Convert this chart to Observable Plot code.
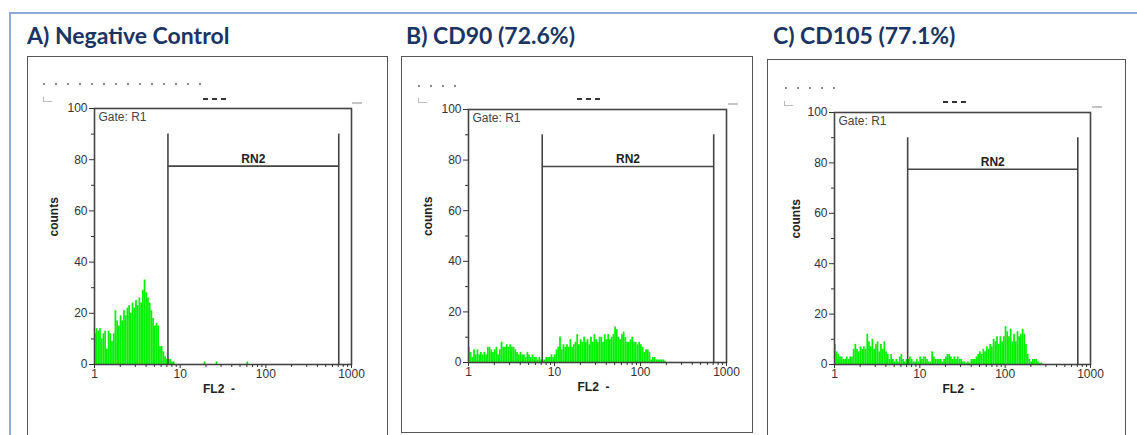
<!DOCTYPE html>
<html><head><meta charset="utf-8">
<script src="https://cdn.jsdelivr.net/npm/d3@7"></script>
<script src="https://cdn.jsdelivr.net/npm/@observablehq/plot@0.6"></script>
<style>
html,body{margin:0;padding:0;background:#fff;width:1137px;height:435px;overflow:hidden;}
#page{position:relative;width:1137px;height:435px;overflow:hidden;}
.outer{position:absolute;left:9px;top:12px;width:1300px;height:600px;border-top:2px solid #8eaadb;border-left:2px solid #8eaadb;}
.title{position:absolute;font-family:Lato,sans-serif;font-weight:700;font-size:23px;color:#1a3563;white-space:nowrap;line-height:1;}
.box{position:absolute;border:1.5px solid #555;box-sizing:border-box;background:#fff;}
.clip{position:absolute;overflow:hidden;}
.clip svg{max-width:none !important;}
.dots{position:absolute;height:2px;background:repeating-linear-gradient(to right,#8a8a8a 0 2px,transparent 2px 12px);}
.dashes{position:absolute;height:2px;background:repeating-linear-gradient(to right,#333 0 5px,transparent 5px 9px);}
.bracket{position:absolute;width:8px;height:4px;border-left:1px solid #bbb;border-bottom:1px solid #bbb;}
.rdash{position:absolute;width:10px;height:2px;background:#c4c4c4;}
</style></head>
<body><div id="page"><div class="outer"></div></div>
<script>
// ---- data ----
const channelsPerDecade = 50;          // histogram channel resolution (log10 units)
const titles = ["A) Negative Control", "B) CD90 (72.6%)", "C) CD105 (77.1%)"];
const yLabel = "counts";
const xLabel = "FL2  -";
const gateName = "Gate: R1";
const regionName = "RN2";
const gate = [7.2, 710];               // RN2 marker limits (FL2)
const gateTop = 90;                    // counts
const gateBar = 77.5;                  // counts
const yMajor = [0, 20, 40, 60, 80, 100];
const yMinor = [10, 30, 50, 70, 90];
const xMajor = [1, 10, 100, 1000];
const xMinor = [2,3,4,5,6,7,8,9,20,30,40,50,60,70,80,90,200,300,400,500,600,700,800,900];

const negativeControl = [
 12,14,13,14,10,12,13,6,13,12, 9,12,21,17,15,19,17,21,19,22,
 23,20,24,22,25,23,26,24,29,33, 28,26,24,21,18,15,16,15,7,7,
 5,3,2,2,2,1,1,0,0,0, 0,0,0,0,0,0,0,0,0,0,
 0,0,0,0,1,0,0,0,0,0, 0,1,0,0,0,0,0,0,0,0,
 0,0,0,0,0,0,0,0,0,1
];
const cd90 = [
 6,4,2,5,3,5,3,4,3,4, 3,6,6,5,4,5,6,3,5,8,
 6,6,7,6,7,6,6,5,4,3, 4,3,3,2,4,3,2,3,2,2,
 1,2,1,1,1,2,2,2,3,2, 3,5,6,10,5,7,6,7,6,9,
 6,7,8,11,7,9,8,10,8,9, 7,10,8,11,9,8,10,10,8,11,
 9,11,9,10,11,14,13,10,9,11, 12,10,8,8,9,10,8,8,7,8,
 7,6,4,5,5,4,1,2,2,1, 1,1,1,1,0.5
];
const cd105 = [
 8,5,4,3,3,2,2,3,2,3, 3,6,8,6,5,7,6,7,6,12,
 9,7,10,6,8,9,5,8,6,9, 5,4,2,4,2,1,2,1,3,4,
 2,1,2,2,3,2,1,1,2,1, 3,2,3,3,2,1,1,5,3,2,
 2,2,2,1,2,3,4,4,3,2, 3,2,3,2,2,1,1,0.5,1,0.5,
 2,2,2,3,4,5,4,6,5,7, 6,8,7,10,9,11,8,11,9,11,
 15,13,11,14,9,12,9,13,11,12, 14,12,8,4,2,1,2,2,2,1,
 0.5,0.5
];
const series = [negativeControl, cd90, cd105];

// ---- layout (positions / sizes only) ----
const layout = [
  {title:[27,24], box:[27,56,361,390], svg:[27,57,360,378], clipW:344, m:[51,36,71,67], ylab:-40,
   dots:[43,83,165], dashes:[203,98,26], bracket:[43,97], rdash:[352,102]},
  {title:[406,24], box:[401,56,352,377], svg:[401,57,351,376], clipW:344, m:[52,26,71,67], ylab:-40,
   dots:[418,85,46], dashes:[577,98,26], bracket:[418,98], rdash:[728,103]},
  {title:[773,24], box:[767,59,359,390], svg:[767,59,358,376], clipW:344, m:[53,35,71,67], ylab:-38,
   dots:[785,87,58], dashes:[943,101,26], bracket:[784,101], rdash:[1092,106]}
];

const page = document.getElementById("page");
function el(cls, css, text){
  const d = document.createElement("div");
  d.className = cls; Object.assign(d.style, css);
  if (text) d.textContent = text;
  page.appendChild(d); return d;
}

series.forEach((counts, k) => {
  const L = layout[k];
  el("title", {left:L.title[0]+"px", top:L.title[1]+"px"}, titles[k]);
  el("box", {left:L.box[0]+"px", top:L.box[1]+"px", width:L.box[2]+"px", height:L.box[3]+"px"});
  el("dots", {left:L.dots[0]+"px", top:L.dots[1]+"px", width:L.dots[2]+"px"});
  el("dashes", {left:L.dashes[0]+"px", top:L.dashes[1]+"px", width:L.dashes[2]+"px"});
  el("bracket", {left:L.bracket[0]+"px", top:L.bracket[1]+"px"});
  el("rdash", {left:L.rdash[0]+"px", top:L.rdash[1]+"px"});

  const bins = counts.map((c, i) => ({
    x1: 10 ** (i / channelsPerDecade),
    x2: 10 ** ((i + 1) / channelsPerDecade),
    count: c
  })).filter(d => d.count > 0);

  const [mt, mr, mb, ml] = L.m;
  const chart = Plot.plot({
    width: L.svg[2], height: L.svg[3],
    marginTop: mt, marginRight: mr, marginBottom: mb, marginLeft: ml,
    style: {fontFamily: "'Liberation Sans', Arial, sans-serif", fontSize: "12px", color: "#333", background: "transparent", overflow: "visible", maxWidth: "none"},
    x: {type: "log", domain: [1, 1000]},
    y: {domain: [0, 100]},
    marks: [
      Plot.rectY(bins, {x1: "x1", x2: "x2", y: "count", fill: "#00f000"}),
      Plot.ruleX(gate, {y1: 0, y2: gateTop, stroke: "#444", strokeWidth: 1.6}),
      Plot.ruleY([{y: gateBar, x1: gate[0], x2: gate[1]}], {y: "y", x1: "x1", x2: "x2", stroke: "#444", strokeWidth: 1.6}),
      Plot.text([{x: Math.sqrt(gate[0] * gate[1]), y: gateBar, t: regionName}], {x: "x", y: "y", text: "t", dy: -7, fontWeight: "bold", fontSize: 12, fill: "#222"}),
      Plot.frame({stroke: "#444", strokeWidth: 1.6}),
      Plot.axisY({ticks: yMajor, tickSize: 5, tickPadding: 2, label: null, fontSize: 12}),
      Plot.axisY({ticks: yMinor, tickSize: 3, tickFormat: () => "", label: null}),
      Plot.axisX({ticks: xMajor, tickSize: 4, tickPadding: 1, tickFormat: d => String(d), label: null, fontSize: 12}),
      Plot.axisX({ticks: xMinor, tickSize: 3, tickFormat: () => "", label: null}),
      Plot.text([yLabel], {text: d => d, frameAnchor: "left", dx: L.ylab, rotate: -90, fontWeight: "bold", fontSize: 12, fill: "#222"}),
      Plot.text([xLabel], {text: d => d, frameAnchor: "bottom", dy: 28, dx: -4, fontWeight: "bold", fontSize: 12, fill: "#222"}),
      Plot.text([gateName], {text: d => d, frameAnchor: "top-left", dx: 4, dy: 4, textAnchor: "start", lineAnchor: "top", fontSize: 12, fill: "#444"})
    ]
  });
  const clip = el("clip", {left:L.svg[0]+"px", top:L.svg[1]+"px", width:L.clipW+"px", height:L.svg[3]+"px"});
  clip.appendChild(chart);
});
</script>
</body></html>
